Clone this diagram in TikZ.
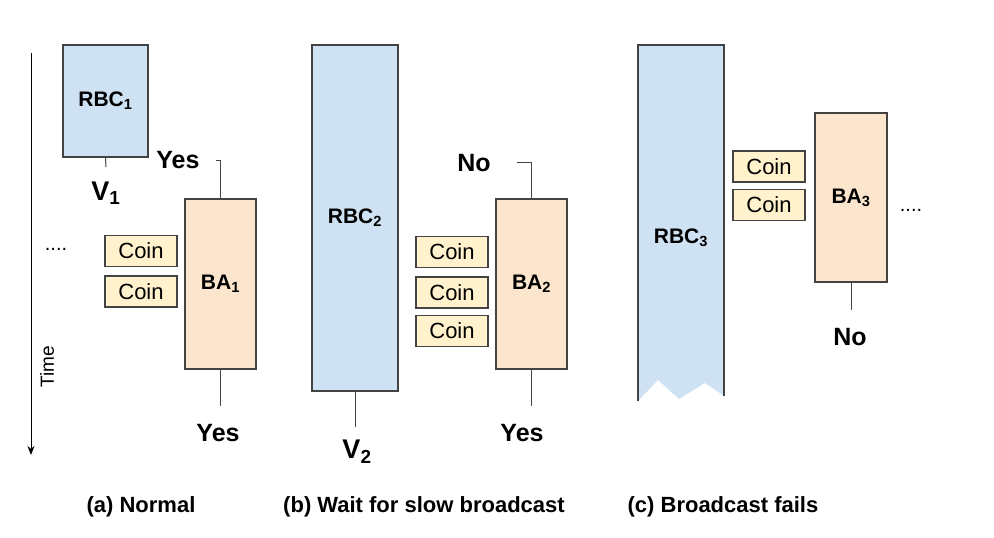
\documentclass[tikz,border=0pt]{standalone}
\usepackage{fontspec}
\setmainfont{Liberation Sans}
\usetikzlibrary{calc,arrows.meta}
\definecolor{rbcblue}{HTML}{CFE2F3}
\definecolor{baorange}{HTML}{FCE5CD}
\definecolor{coinyellow}{HTML}{FFF2CC}
\definecolor{edgegray}{HTML}{434343}

\tikzset{
    rbcbox/.style={draw=edgegray, line width=1.1pt, fill=rbcblue, inner sep=0pt, minimum width=85pt,
        font=\bfseries\fontsize{21}{24}\selectfont},
    babox/.style={draw=edgegray, line width=1.1pt, fill=baorange, inner sep=0pt, minimum width=71pt,
        minimum height=170pt, font=\bfseries\fontsize{21}{24}\selectfont},
    coinbox/.style={draw=edgegray, line width=1.1pt, fill=coinyellow, inner sep=0pt, minimum width=72pt,
        minimum height=31pt, font=\fontsize{22}{26}\selectfont},
    answer/.style={inner sep=0pt, font=\bfseries\fontsize{25}{28}\selectfont},
    value/.style={inner sep=0pt, font=\bfseries\fontsize{27}{30}\selectfont},
    caption/.style={inner sep=0pt, font=\bfseries\fontsize{22}{26}\selectfont},
    more/.style={inner sep=0pt, font=\fontsize{20}{24}\selectfont},
    stem/.style={draw=edgegray, line width=1pt}
}

\begin{document}
\begin{tikzpicture}[x=1pt,y=-1pt]
            \useasboundingbox (0,0) rectangle (994,538);

            % time axis
            \coordinate (t0) at (31,53);
            \coordinate (t1) at (31,455);
            \draw [-{Stealth[length=9pt,width=7pt]}, line width=1pt] (t0) -- (t1);
            \node (time) at (47,367) [rotate=90, inner sep=0pt, font=\fontsize{19}{22}\selectfont] {Time};

            % (a) normal
            \node (rbcA) at (105.5,101) [rbcbox, minimum height=112pt] {RBC\textsubscript{1}};
            \node (baA) at (220.5,284) [babox] {BA\textsubscript{1}};
            \node (vA) at (106,193) [value] {V\textsubscript{1}};
            \node (yesAtop) at (178,160) [answer] {Yes};
            \node (yesAbot) at (218,433) [answer] {Yes};
            \node (dotsA) at (56,249) [more] {....};
            \coordinate (sA) at (106,167);
            \coordinate (kA) at (216,160);
            \coordinate (eA) at (220.5,406);

            % (b) wait for slow broadcast
            \node (rbcB) at (355,218) [rbcbox, minimum width=86pt, minimum height=346pt] {RBC\textsubscript{2}};
            \node (baB) at (531.5,284) [babox] {BA\textsubscript{2}};
            \node (vB) at (357,452) [value] {V\textsubscript{2}};
            \node (noB) at (474,163) [answer] {No};
            \node (yesBbot) at (522,433) [answer] {Yes};
            \coordinate (sB) at (355,427);
            \coordinate (kB) at (517,162);
            \coordinate (eB) at (531.5,406);

            % (c) broadcast fails
            \fill [rbcblue] (638,45) -- (724,45) -- (724,396) -- (705,383) -- (679,399)
                -- (658,380) -- (638,401) -- cycle;
            \draw [draw=edgegray, line width=1.1pt] (638,401) -- (638,45) -- (724,45) -- (724,396);
            \node (rbcC) at (681,238) [inner sep=0pt, font=\bfseries\fontsize{21}{24}\selectfont] {RBC\textsubscript{3}};
            \node (baC) at (851,197.5) [babox, minimum width=72pt, minimum height=169pt] {BA\textsubscript{3}};
            \node (noC) at (850,337) [answer] {No};
            \node (dotsC) at (911,210) [more] {....};
            \coordinate (eC) at (851,310);

            \foreach \n/\x/\y in {cA1/141/251, cA2/141/291.5, cB1/452/252, cB2/452/292.5,
                                  cB3/452/331, cC1/769/166.5, cC2/769/205}
                {
                    \node (\n) at (\x,\y) [coinbox] {Coin};
                }

            \draw [stem] (rbcA.south) -- (sA);
            \draw [stem] (kA) -| (baA.north);
            \draw [stem] (baA.south) -- (eA);
            \draw [stem] (rbcB.south) -- (sB);
            \draw [stem] (kB) -| (baB.north);
            \draw [stem] (baB.south) -- (eB);
            \draw [stem] (baC.south) -- (eC);

            \node (capA) at (141,507) [caption] {(a) Normal};
            \node (capB) at (424,507) [caption] {(b) Wait for slow broadcast};
            \node (capC) at (723,507) [caption] {(c) Broadcast fails};

        \end{tikzpicture}
\end{document}
